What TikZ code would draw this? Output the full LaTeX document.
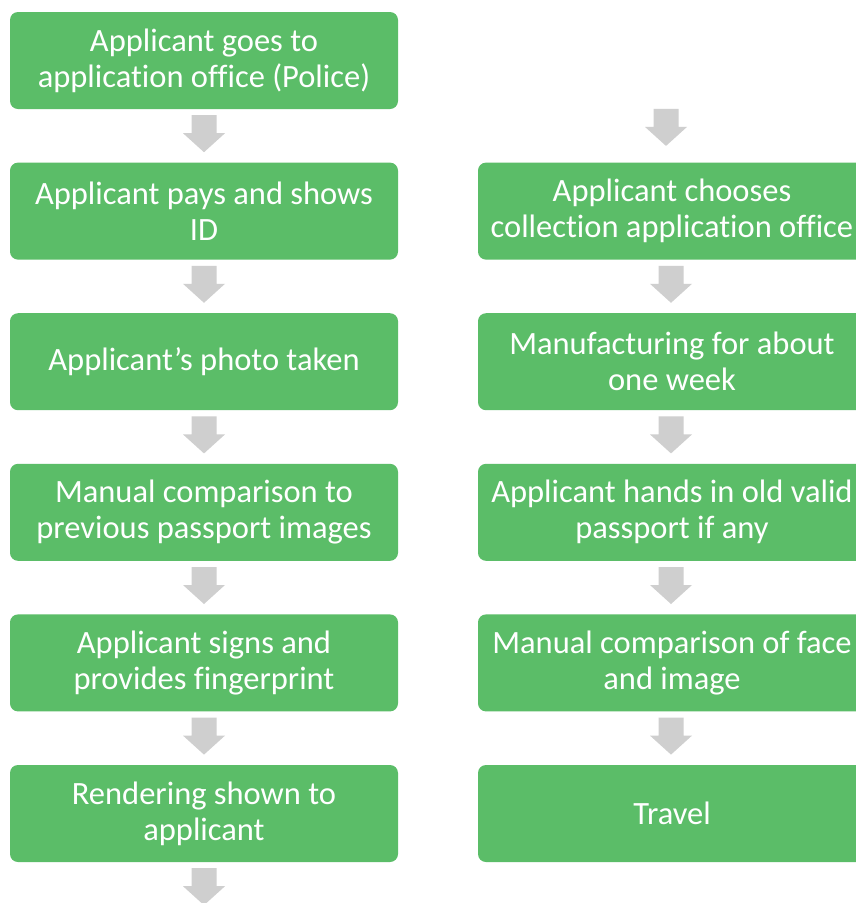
\documentclass[tikz,border=0pt]{standalone}
\usepackage{fontspec}
\setmainfont{Carlito}[Ligatures=NoCommon]
\usetikzlibrary{calc}
\definecolor{boxgreen}{RGB}{91,189,104}
\definecolor{arrgray}{RGB}{207,207,207}
\tikzset{
  box/.style={rectangle, rounded corners=8pt, fill=boxgreen, text=white,
    minimum width=388pt, minimum height=97pt, align=center, inner sep=0pt,
    font=\fontsize{32.5pt}{36pt}\selectfont},
  blockarrow/.pic={
    \fill[arrgray] (-12.5,18.5) -- (12.5,18.5) -- (12.5,0.5) -- (21,0.5)
      -- (0,-18.5) -- (-21,0.5) -- (-12.5,0.5) -- cycle;
  }
}
\begin{document}
\begin{tikzpicture}[x=1pt,y=1pt]
\clip (0,0) rectangle (856,-903);
\fill[white] (0,0) rectangle (856,-903);
% left column
\node[box] (L1) at (204,-60.5) {Applicant goes to\\application office (Police)};
\node[box] (L2) at (204,-211.1) {Applicant pays and shows\\ID};
\node[box] (L3) at (204,-361.7) {Applicant’s photo taken};
\node[box] (L4) at (204,-512.3) {Manual comparison to\\previous passport images};
\node[box] (L5) at (204,-662.9) {Applicant signs and\\provides fingerprint};
\node[box] (L6) at (204,-813.5) {Rendering shown to\\applicant};
% right column
\node[box] (R1) at (672,-211.1) {Applicant chooses\\collection application office};
\node[box] (R2) at (672,-361.7) {Manufacturing for about\\one week};
\node[box] (R3) at (672,-512.3) {Applicant hands in old valid\\passport if any};
\node[box] (R4) at (672,-662.9) {Manual comparison of face\\and image};
\node[box] (R5) at (672,-813.5) {Travel};
% block arrow positions
\coordinate (a1) at ($(L1.south)+(0,-24.5)$);
\coordinate (a2) at ($(L2.south)+(0,-24.5)$);
\coordinate (a3) at ($(L3.south)+(0,-24.5)$);
\coordinate (a4) at ($(L4.south)+(0,-24.5)$);
\coordinate (a5) at ($(L5.south)+(0,-24.5)$);
\coordinate (a6) at ($(L6.south)+(0,-24.5)$);
\coordinate (b0) at ($(R1.north)+(-6,35)$);
\coordinate (b1) at ($(R1.south)+(-1,-24.5)$);
\coordinate (b2) at ($(R2.south)+(-1,-24.5)$);
\coordinate (b3) at ($(R3.south)+(-1,-24.5)$);
\coordinate (b4) at ($(R4.south)+(-1,-24.5)$);
\foreach \p in {a1,a2,a3,a4,a5,a6,b0,b1,b2,b3,b4}
  \pic at (\p) {blockarrow};
\end{tikzpicture}
\end{document}
